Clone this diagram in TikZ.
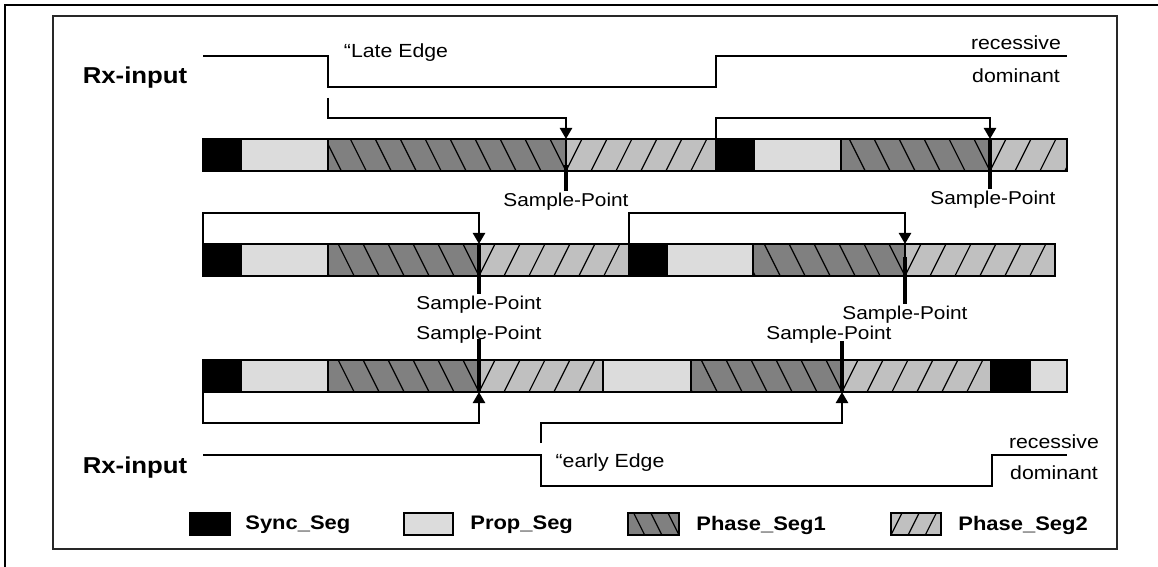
\documentclass[tikz,border=0pt]{standalone}
\usepackage{fontspec}
\setmainfont{Liberation Sans}[FakeStretch=1.12]
\usetikzlibrary{arrows.meta}
\definecolor{propGray}{RGB}{220,220,220}
\definecolor{phaseOneGray}{RGB}{128,128,128}
\definecolor{phaseTwoGray}{RGB}{192,192,192}
\definecolor{frameGray}{RGB}{40,40,40}

% bit segments: #1 left x, #2 right x, #3 top y, #4 bottom y
\newcommand{\segbox}[5]{\draw[segline,fill=#5] (#1,#3) rectangle (#2,#4);}
\newcommand{\segsync}[4]{\segbox{#1}{#2}{#3}{#4}{black}}
\newcommand{\segprop}[4]{\segbox{#1}{#2}{#3}{#4}{propGray}}
\newcommand{\segphaseone}[4]{%
  \fill[phaseOneGray] (#1,#3) rectangle (#2,#4);
  \pgfmathsetmacro{\hstep}{0.78*(#4-#3)}
  \pgfmathsetmacro{\hrun}{0.5*(#4-#3)}
  \begin{scope}
    \clip (#1,#3) rectangle (#2,#4);
    \foreach \k in {0,...,11}
      \draw[hatchline] ({#2-\k*\hstep-\hrun},#3) -- ({#2-\k*\hstep},#4);
  \end{scope}
  \draw[segline] (#1,#3) rectangle (#2,#4);}
\newcommand{\segphasetwo}[4]{%
  \fill[phaseTwoGray] (#1,#3) rectangle (#2,#4);
  \pgfmathsetmacro{\hstep}{0.78*(#4-#3)}
  \pgfmathsetmacro{\hrun}{0.5*(#4-#3)}
  \begin{scope}
    \clip (#1,#3) rectangle (#2,#4);
    \foreach \k in {0,...,11}
      \draw[hatchline] ({#1+\k*\hstep},#4) -- ({#1+\k*\hstep+\hrun},#3);
  \end{scope}
  \draw[segline] (#1,#3) rectangle (#2,#4);}

\begin{document}
\begin{tikzpicture}[x=0.5pt,y=-0.5pt,>={Triangle[length=5.5pt,width=6pt]},
  segline/.style={line width=0.7pt},
  hatchline/.style={line width=0.6pt},
  sigline/.style={line width=0.8pt},
  syncarrow/.style={->,line width=1.2pt},
  sampletick/.style={line width=2pt},
  splabel/.style={font=\fontsize{9.3}{10}\selectfont,inner sep=1pt},
  levellabel/.style={font=\fontsize{9.5}{11}\selectfont,inner sep=1pt},
  sigtitle/.style={font=\fontsize{11.5}{13}\selectfont\bfseries,inner sep=1pt},
  legendlabel/.style={font=\fontsize{9.8}{11}\selectfont\bfseries,anchor=west,inner sep=1pt}]
  \useasboundingbox (0,0) rectangle (1158,567);
  % frames
  \draw[line width=0.6pt] (5,567) -- (5,5) -- (1158,5);
  \draw[line width=1pt,frameGray] (53,16) rectangle (1117,549);

  % late edge
  \node[sigtitle] (rxTop) at (135,78) {Rx-input};
  \draw[sigline] (203,56) -- (328,56) -- (328,87) -- (716,87) -- (716,56) -- (1067,56);
  \node[levellabel] (lateLbl) at (396,53) {“Late Edge};
  \node[levellabel] (recTop) at (1016,43) {recessive};
  \node[levellabel] (domTop) at (1016,76) {dominant};

  \foreach \kind/\xa/\xb in {sync/203/241,prop/241/328,phaseone/328/566,phasetwo/566/716,
      sync/716/754,prop/754/841,phaseone/841/990,phasetwo/990/1067}
    {\csname seg\kind\endcsname{\xa}{\xb}{139}{171}}
  \foreach \kind/\xa/\xb in {sync/203/241,prop/241/328,phaseone/328/479,phasetwo/479/629,
      sync/629/667,prop/667/753,phaseone/753/905,phasetwo/905/1055}
    {\csname seg\kind\endcsname{\xa}{\xb}{244}{276}}
  \foreach \kind/\xa/\xb in {sync/203/241,prop/241/328,phaseone/328/479,phasetwo/479/603,
      prop/603/691,phaseone/691/842,phasetwo/842/991,sync/991/1030,prop/1030/1067}
    {\csname seg\kind\endcsname{\xa}{\xb}{360}{392}}

  % sample points
  \coordinate (lateEdge) at (328,98);
  \coordinate (spA) at (566,139);
  \coordinate (syncB) at (716,139);
  \coordinate (spB) at (990,139);
  \coordinate (syncC) at (203,244);
  \coordinate (spC) at (479,244);
  \coordinate (syncD) at (629,244);
  \coordinate (spD) at (905,244);
  \coordinate (syncE) at (203,392);
  \coordinate (spE) at (479,392);
  \coordinate (earlyEdge) at (541,443);
  \coordinate (spF) at (842,392);

  \node[splabel] (spLabA) at (566,202) {Sample-Point};
  \node[splabel] (spLabB) at (993,200) {Sample-Point};
  \node[splabel] (spLabC) at (479,305) {Sample-Point};
  \node[splabel] (spLabD) at (905,315) {Sample-Point};
  \node[splabel] (spLabE) at (479,335) {Sample-Point};
  \node[splabel] (spLabF) at (829,335) {Sample-Point};

  \draw[sampletick] (566,165) -- (spA |- spLabA.north);
  \draw[sampletick] (spB) -- (spB |- spLabB.north);
  \draw[sampletick] (spC) -- (spC |- spLabC.north);
  \draw[sampletick] (905,257) -- (spD |- spLabD.north);
  \draw[sampletick] (479,339) -- (spE);
  \draw[sampletick] (842,341) -- (spF);

  \draw[syncarrow] (lateEdge) -- ++(0,20) -| (spA);
  \draw[syncarrow] (syncB) -- ++(0,-21) -| (spB);
  \draw[syncarrow] (syncC) -- ++(0,-31) -| (spC);
  \draw[syncarrow] (syncD) -- ++(0,-31) -| (spD);
  \draw[syncarrow] (syncE) -- ++(0,31) -| (spE);
  \draw[syncarrow] (earlyEdge) -- ++(0,-20) -| (spF);

  % early edge
  \node[sigtitle] (rxBot) at (135,468) {Rx-input};
  \draw[sigline] (203,455) -- (541,455) -- (541,486) -- (992,486) -- (992,455) -- (1067,455);
  \node[levellabel] (earlyLbl) at (610,463) {“early Edge};
  \node[levellabel] (recBot) at (1054,442) {recessive};
  \node[levellabel] (domBot) at (1054,473) {dominant};

  % legend
  \segsync{190}{230}{513}{535}
  \segprop{404}{453}{513}{535}
  \segphaseone{628}{679}{513}{535}
  \segphasetwo{891}{941}{513}{535}
  \node[legendlabel] (legSync) at (243,525) {Sync\_Seg};
  \node[legendlabel] (legProp) at (468,525) {Prop\_Seg};
  \node[legendlabel] (legPhOne) at (694,525) {Phase\_Seg1};
  \node[legendlabel] (legPhTwo) at (956,525) {Phase\_Seg2};
\end{tikzpicture}
\end{document}
